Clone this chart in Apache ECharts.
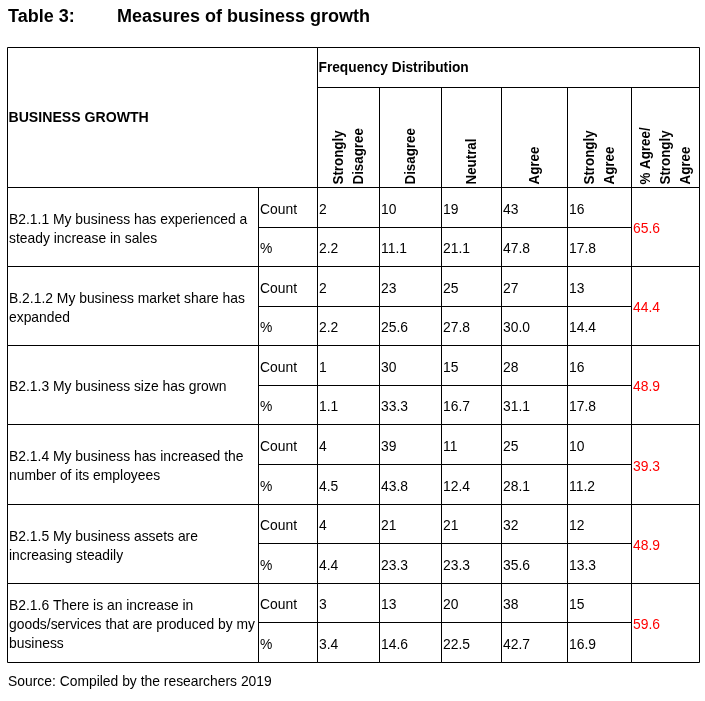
<!DOCTYPE html>
<html>
<head>
<meta charset="utf-8">
<title>Measures of business growth</title>
<script src="https://cdn.jsdelivr.net/npm/echarts@6/dist/echarts.min.js"></script>
<style>
html,body{margin:0;padding:0;background:#fff;}
#main{width:705px;height:701px;}
</style>
</head>
<body>
<div id="main"></div>
<script>
// 表格数据
var items = [
	'B2.1.1 My business has experienced a\nsteady increase in sales',
	'B.2.1.2 My business market share has\nexpanded',
	'B2.1.3 My business size has grown',
	'B2.1.4 My business has increased the\nnumber of its employees',
	'B2.1.5 My business assets are\nincreasing steadily',
	'B2.1.6 There is an increase in\ngoods/services that are produced by my\nbusiness'
];
var columns = ['Strongly\nDisagree', 'Disagree', 'Neutral', 'Agree', 'Strongly\nAgree', '% Agree/\nStrongly\nAgree'];
var counts = [
	[2, 10, 19, 43, 16],
	[2, 23, 25, 27, 13],
	[1, 30, 15, 28, 16],
	[4, 39, 11, 25, 10],
	[4, 21, 21, 32, 12],
	[3, 13, 20, 38, 15]
];
var percents = [
	['2.2', '11.1', '21.1', '47.8', '17.8'],
	['2.2', '25.6', '27.8', '30.0', '14.4'],
	['1.1', '33.3', '16.7', '31.1', '17.8'],
	['4.5', '43.8', '12.4', '28.1', '11.2'],
	['4.4', '23.3', '23.3', '35.6', '13.3'],
	['3.4', '14.6', '22.5', '42.7', '16.9']
];
var agreeShare = ['65.6', '44.4', '48.9', '39.3', '48.9', '59.6'];
var subLabels = ['Count', '%'];

// 版面 (表格单位)
var colEdges = [0, 251, 310, 372, 433.5, 494, 560, 624, 692]; //列边界
var headH = 140;   //表头高度
var freqH = 40;    //Frequency Distribution 高度
var rowH = 79.17;  //每项高度
var tableH = headH + rowH * items.length;
var FONT = 'Liberation Sans, Arial, sans-serif';
var SQUEEZE = 0.925; //字体横向压缩

// 单元格: [x0, x1, y0, y1, 文字, 类型]
var cells = [];
cells.push([0, colEdges[2], 0, headH, 'BUSINESS GROWTH', 'head']);
cells.push([colEdges[2], colEdges[8], 0, freqH, 'Frequency Distribution', 'freq']);
for (var c = 0; c < columns.length; c++) {
	cells.push([colEdges[c + 2], colEdges[c + 3], freqH, headH, columns[c], 'rot']);
}
for (var i = 0; i < items.length; i++) {
	var y0 = headH + rowH * i;
	cells.push([0, colEdges[1], y0, y0 + rowH, items[i], 'item']);
	cells.push([colEdges[7], colEdges[8], y0, y0 + rowH, agreeShare[i], 'red']);
	for (var s = 0; s < 2; s++) {
		var sy0 = y0 + rowH / 2 * s, sy1 = sy0 + rowH / 2;
		cells.push([colEdges[1], colEdges[2], sy0, sy1, subLabels[s], 'sub']);
		var vals = s == 0 ? counts[i] : percents[i];
		for (var k = 0; k < vals.length; k++) {
			cells.push([colEdges[k + 2], colEdges[k + 3], sy0, sy1, String(vals[k]), 'sub']);
		}
	}
}

function crisp(v) {
	return Math.round(v) + 0.5;
}

/**
 * 文字元素 (横向压缩)
 */
function textEl(str, x, y, opt) {
	return {
		type: 'text',
		x: x,
		y: y,
		rotation: opt.rotation || 0,
		scaleX: opt.scaleX || SQUEEZE,
		style: {
			text: str,
			x: 0,
			y: 0,
			align: 'left',
			verticalAlign: 'middle',
			fontFamily: FONT,
			fontSize: opt.fontSize || 15,
			fontWeight: opt.bold ? 'bold' : 'normal',
			lineHeight: opt.lineHeight || 19,
			fill: opt.color || '#000'
		}
	};
}

function renderCell(params, api) {
	var p0 = api.coord([api.value(0), api.value(2)]);
	var p1 = api.coord([api.value(1), api.value(3)]);
	var x0 = crisp(p0[0]), y0 = crisp(p0[1]), x1 = crisp(p1[0]), y1 = crisp(p1[1]);
	var d = cells[params.dataIndex];
	var kind = d[5];
	var cy = (y0 + y1) / 2;
	var t;
	if (kind == 'head') {
		t = textEl(d[4], x0 + 1, cy, { bold: true, fontSize: 15.5, scaleX: 0.91 });
	} else if (kind == 'freq') {
		t = textEl(d[4], x0 + 1, cy, { bold: true, fontSize: 15, scaleX: 0.915 });
	} else if (kind == 'rot') {
		t = textEl(d[4], (x0 + x1) / 2, y1 - 3, { bold: true, fontSize: 14.5, scaleX: 0.92, lineHeight: 20, rotation: Math.PI / 2 });
	} else if (kind == 'red') {
		t = textEl(d[4], x0 + 1.5, cy + 2, { color: '#ff0000' });
	} else {
		t = textEl(d[4], x0 + 1.5, cy + 2, {});
	}
	return {
		type: 'group',
		children: [
			{
				type: 'rect',
				shape: { x: x0, y: y0, width: x1 - x0, height: y1 - y0 },
				style: { fill: 'none', stroke: '#000', lineWidth: 1 }
			},
			t
		]
	};
}

var myChart = echarts.init(document.getElementById('main'));
var option = {
	backgroundColor: '#fff',
	animation: false,
	title: [
		{
			text: 'Table 3:',
			left: 8, top: 8, padding: 0,
			textStyle: { fontFamily: FONT, fontSize: 18, fontWeight: 'bold', color: '#000', lineHeight: 18 }
		},
		{
			text: 'Measures of business growth',
			left: 117, top: 8, padding: 0,
			textStyle: { fontFamily: FONT, fontSize: 18, fontWeight: 'bold', color: '#000', lineHeight: 18 }
		}
	],
	graphic: [
		textEl('Source: Compiled by the researchers 2019', 8, 682, {})
	],
	grid: { left: 7, top: 47, width: 692, height: 615 },
	xAxis: { type: 'value', min: 0, max: colEdges[colEdges.length - 1], show: false },
	yAxis: { type: 'value', min: 0, max: tableH, inverse: true, show: false },
	series: [{
		type: 'custom',
		renderItem: renderCell,
		data: cells,
		encode: { x: [0, 1], y: [2, 3] },
		silent: true
	}]
};
myChart.setOption(option);
</script>
</body>
</html>
